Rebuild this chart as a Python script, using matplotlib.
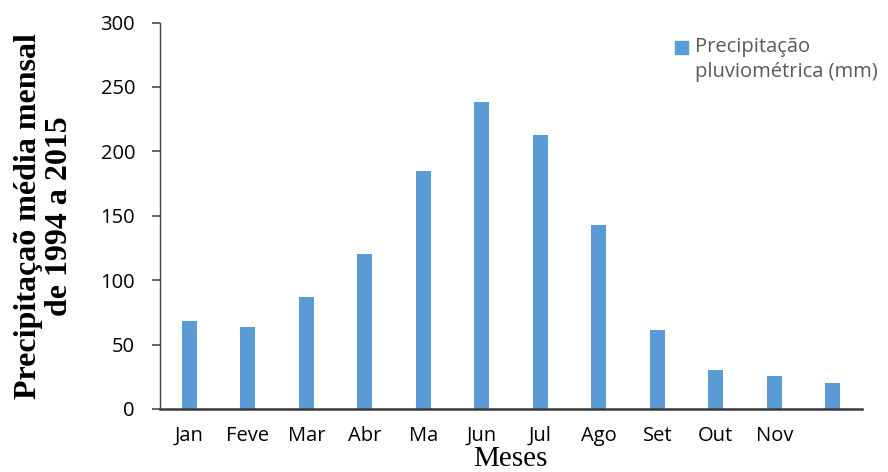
import matplotlib.pyplot as plt
from matplotlib.patches import Rectangle

# dados
meses = ['Jan', 'Feve', 'Mar', 'Abr', 'Ma', 'Jun', 'Jul', 'Ago', 'Set', 'Out', 'Nov', '']
precip = [68, 64, 87, 120, 185, 238, 213, 143, 61, 30, 26, 20]
y_ticks = [0, 50, 100, 150, 200, 250, 300]

cor = '#5B9BD5'

fig = plt.figure(figsize=(8.88, 4.72), dpi=100)
ax = fig.add_axes([160 / 888, 1 - 409 / 472, 702 / 888, 386.5 / 472])

x = list(range(len(meses)))
ax.bar(x, precip, width=0.255, color=cor, zorder=2)

ax.set_xlim(-0.5, len(meses) - 0.5)
ax.set_ylim(0, 300)
ax.set_yticks(y_ticks)
ax.set_xticks(x)
ax.set_xticklabels(meses)

for s in ['top', 'right']:
    ax.spines[s].set_visible(False)
ax.spines['left'].set_color('#404040')
ax.spines['left'].set_linewidth(1.0)
ax.spines['bottom'].set_color('#3a3a3a')
ax.spines['bottom'].set_linewidth(1.8)
ax.spines['bottom'].set_zorder(3)

ax.tick_params(axis='y', direction='out', length=6, width=1.3, color='#595959',
               pad=12, labelsize=14.5)
ax.tick_params(axis='x', length=0, pad=12, labelsize=14.5)
for lab in ax.get_xticklabels() + ax.get_yticklabels():
    lab.set_fontfamily('Open Sans')
    lab.set_color('black')

# rotulo do eixo y (duas linhas, serif negrito)
fig.text(44 / 888, 1 - 216 / 472, 'Precipitaçaõ média mensal\nde 1994 a 2015',
         rotation=90, ha='center', va='center', multialignment='center',
         family='Liberation Serif', fontweight='bold', fontsize=23, linespacing=1.12)

fig.text(510 / 888, 0.5 / 472, 'Meses', ha='center', va='bottom',
         family='Liberation Serif', fontsize=21)

# legenda
fig.add_artist(Rectangle((675 / 888, 1 - 54 / 472), 13 / 888, 13 / 472,
                         transform=fig.transFigure, color=cor))
fig.text(695 / 888, 1 - 37 / 472, 'Precipitação\npluviométrica (mm)',
         ha='left', va='top', family='Open Sans', fontsize=14.5,
         color='#595959', linespacing=1.3)

fig.savefig('out.png', dpi=100)
